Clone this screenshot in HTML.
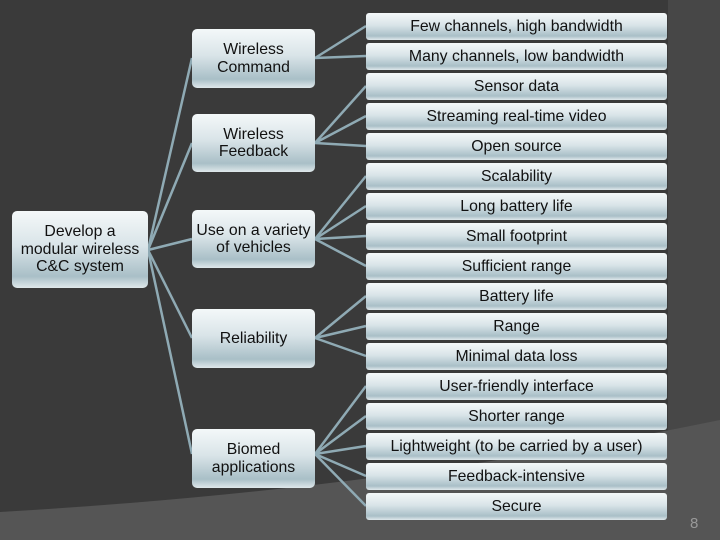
<!DOCTYPE html>
<html><head><style>
body{margin:0;width:720px;height:540px;overflow:hidden;background:#3a3a3a;font-family:"Liberation Sans",sans-serif;position:relative}
.b{position:absolute;box-sizing:border-box;display:flex;align-items:center;justify-content:center;text-align:center;color:#111;background:linear-gradient(#f4f8f9 0%,#d9e4e8 45%,#a9bfc7 85%,#dfe8eb 100%);border-radius:5px;font-size:15.8px;line-height:17.5px;white-space:nowrap}
.r{left:366px;width:301px;height:27px;border-radius:3px}
</style></head><body>
<svg width="720" height="540" style="position:absolute;left:0;top:0">
<path d="M668 0 L720 0 L720 540 L668 540 Z" fill="#474747"/>
<path d="M0 512 Q380 490 720 420 L720 540 L0 540 Z" fill="#555"/>
<g stroke="#8faab4" stroke-width="2.5" fill="none">
<line x1="148" y1="250" x2="192" y2="58"/>
<line x1="148" y1="250" x2="192" y2="143"/>
<line x1="148" y1="250" x2="192" y2="239"/>
<line x1="148" y1="250" x2="192" y2="338"/>
<line x1="148" y1="250" x2="192" y2="454"/>
<line x1="315" y1="58" x2="366" y2="26"/>
<line x1="315" y1="58" x2="366" y2="56"/>
<line x1="315" y1="143" x2="366" y2="86"/>
<line x1="315" y1="143" x2="366" y2="116"/>
<line x1="315" y1="143" x2="366" y2="146"/>
<line x1="315" y1="239" x2="366" y2="176"/>
<line x1="315" y1="239" x2="366" y2="206"/>
<line x1="315" y1="239" x2="366" y2="236"/>
<line x1="315" y1="239" x2="366" y2="266"/>
<line x1="315" y1="338" x2="366" y2="296"/>
<line x1="315" y1="338" x2="366" y2="326"/>
<line x1="315" y1="338" x2="366" y2="356"/>
<line x1="315" y1="454" x2="366" y2="386"/>
<line x1="315" y1="454" x2="366" y2="416"/>
<line x1="315" y1="454" x2="366" y2="446"/>
<line x1="315" y1="454" x2="366" y2="476"/>
<line x1="315" y1="454" x2="366" y2="506"/>
</g></svg>
<div class="b" style="left:12px;top:211px;width:136px;height:77px">Develop a<br>modular wireless<br>C&amp;C system</div>
<div class="b" style="left:192px;top:29px;width:123px;height:59px">Wireless<br>Command</div>
<div class="b" style="left:192px;top:114px;width:123px;height:58px">Wireless<br>Feedback</div>
<div class="b" style="left:192px;top:210px;width:123px;height:58px">Use on a variety<br>of vehicles</div>
<div class="b" style="left:192px;top:309px;width:123px;height:59px">Reliability</div>
<div class="b" style="left:192px;top:429px;width:123px;height:59px">Biomed<br>applications</div>
<div class="b r" style="top:13px">Few channels, high bandwidth</div>
<div class="b r" style="top:43px">Many channels, low bandwidth</div>
<div class="b r" style="top:73px">Sensor data</div>
<div class="b r" style="top:103px">Streaming real-time video</div>
<div class="b r" style="top:133px">Open source</div>
<div class="b r" style="top:163px">Scalability</div>
<div class="b r" style="top:193px">Long battery life</div>
<div class="b r" style="top:223px">Small footprint</div>
<div class="b r" style="top:253px">Sufficient range</div>
<div class="b r" style="top:283px">Battery life</div>
<div class="b r" style="top:313px">Range</div>
<div class="b r" style="top:343px">Minimal data loss</div>
<div class="b r" style="top:373px">User-friendly interface</div>
<div class="b r" style="top:403px">Shorter range</div>
<div class="b r" style="top:433px">Lightweight (to be carried by a user)</div>
<div class="b r" style="top:463px">Feedback-intensive</div>
<div class="b r" style="top:493px">Secure</div>
<div style="position:absolute;left:690px;top:515px;color:#999;font-size:15px">8</div>
</body></html>
